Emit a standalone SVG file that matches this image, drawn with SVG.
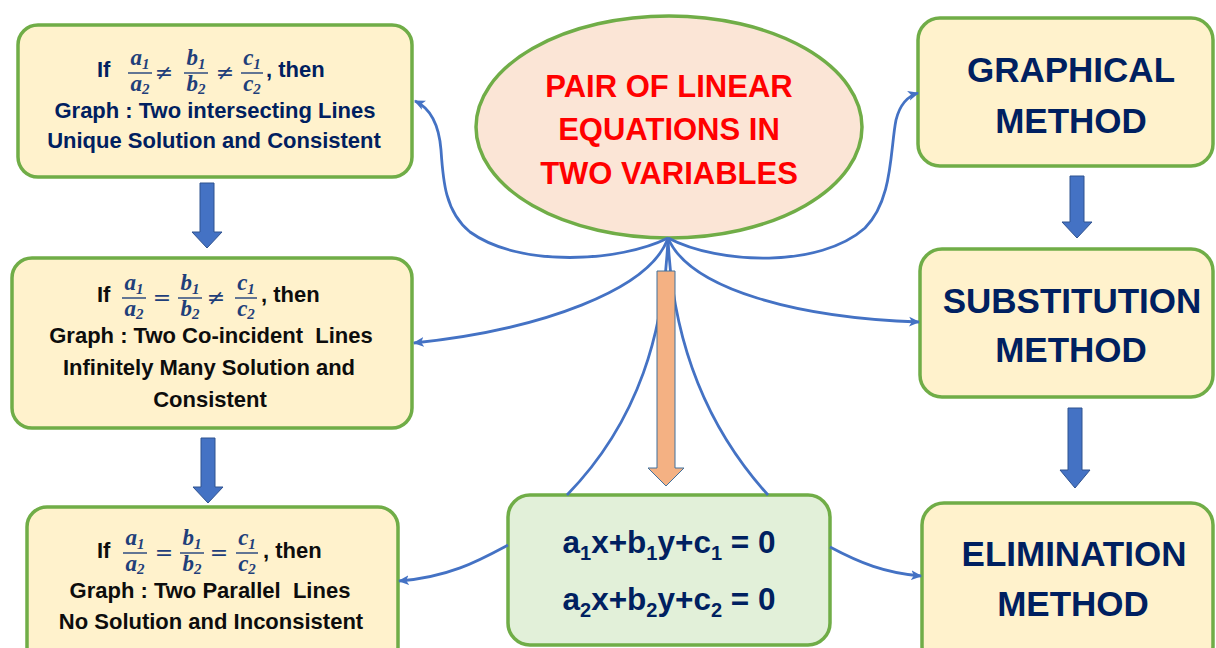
<svg xmlns="http://www.w3.org/2000/svg" width="1216" height="648" viewBox="0 0 1216 648">
<style>
.bx{fill:#FFF2CC;stroke:#70AD47;stroke-width:3.5}
.t{font-family:"Liberation Sans",Arial,sans-serif;font-weight:bold;font-size:22px;text-anchor:middle;white-space:pre}
.nv{fill:#002060}
.bk{fill:#0D0D0D}
.big{font-family:"Liberation Sans",Arial,sans-serif;font-weight:bold;font-size:35px;fill:#002060;text-anchor:middle}
.title{font-family:"Liberation Sans",Arial,sans-serif;font-weight:bold;font-size:31px;fill:#FF0000;text-anchor:middle}
.eq{font-family:"Liberation Sans",Arial,sans-serif;font-weight:bold;font-size:31.5px;fill:#002060;text-anchor:middle;white-space:pre}
.m{font-family:"Liberation Serif","Times New Roman",serif;font-style:italic;font-weight:bold;font-size:23px;fill:#1F3F7A;text-anchor:middle}
.s{font-size:15px}
.rel{font-family:"DejaVu Sans","Liberation Sans",sans-serif;font-size:22px;fill:#1F3F7A;text-anchor:middle}
.bar{stroke:#1F3F7A;stroke-width:1.4}
.c{fill:none;stroke:#4472C4;stroke-width:2.8}
.ba{fill:#4472C4;stroke:#2F528F;stroke-width:1}
</style>
<defs>
<marker id="ah" viewBox="0 0 10 10" refX="9" refY="5" markerWidth="11" markerHeight="11" markerUnits="userSpaceOnUse" orient="auto">
<path d="M0,0.5 L10,5 L0,9.5 L2.5,5 Z" fill="#4472C4"/>
</marker>
</defs>

<g id="box1">
<rect class="bx" x="18" y="25" width="394" height="152" rx="20"/>
<text class="t nv" x="97" y="77" style="text-anchor:start">If</text>
<text class="m" x="140" y="65">a<tspan class="s" dy="4">1</tspan></text>
<line class="bar" x1="128" y1="73" x2="152" y2="73"/>
<text class="m" x="140" y="91">a<tspan class="s" dy="3">2</tspan></text>
<text class="rel" x="164" y="80">≠</text>
<text class="m" x="196" y="65">b<tspan class="s" dy="4">1</tspan></text>
<line class="bar" x1="184" y1="73" x2="208" y2="73"/>
<text class="m" x="196" y="91">b<tspan class="s" dy="3">2</tspan></text>
<text class="rel" x="225" y="80">≠</text>
<text class="m" x="252" y="65">c<tspan class="s" dy="4">1</tspan></text>
<line class="bar" x1="241" y1="73" x2="263" y2="73"/>
<text class="m" x="252" y="91">c<tspan class="s" dy="3">2</tspan></text>
<text class="t nv" x="266" y="77" style="text-anchor:start">, then</text>
<text class="t nv" x="215" y="118">Graph : Two intersecting Lines</text>
<text class="t nv" x="214" y="148">Unique Solution and Consistent</text>
</g>

<g id="box2">
<rect class="bx" x="12" y="258" width="400" height="170" rx="20"/>
<text class="t bk" x="97" y="302" style="text-anchor:start">If</text>
<text class="m" x="134" y="290">a<tspan class="s" dy="4">1</tspan></text>
<line class="bar" x1="122" y1="298" x2="146" y2="298"/>
<text class="m" x="134" y="316">a<tspan class="s" dy="3">2</tspan></text>
<text class="rel" x="162" y="305">=</text>
<text class="m" x="190" y="290">b<tspan class="s" dy="4">1</tspan></text>
<line class="bar" x1="178" y1="298" x2="202" y2="298"/>
<text class="m" x="190" y="316">b<tspan class="s" dy="3">2</tspan></text>
<text class="rel" x="216" y="305">≠</text>
<text class="m" x="246" y="290">c<tspan class="s" dy="4">1</tspan></text>
<line class="bar" x1="235" y1="298" x2="257" y2="298"/>
<text class="m" x="246" y="316">c<tspan class="s" dy="3">2</tspan></text>
<text class="t bk" x="261" y="302" style="text-anchor:start">, then</text>
<text class="t bk" x="211" y="343">Graph : Two Co-incident  Lines</text>
<text class="t bk" x="209" y="375">Infinitely Many Solution and</text>
<text class="t bk" x="210" y="407">Consistent</text>
</g>

<g id="box3">
<rect class="bx" x="27" y="507" width="371" height="160" rx="20"/>
<text class="t bk" x="97" y="558" style="text-anchor:start">If</text>
<text class="m" x="135" y="545">a<tspan class="s" dy="4">1</tspan></text>
<line class="bar" x1="123" y1="553" x2="147" y2="553"/>
<text class="m" x="135" y="571">a<tspan class="s" dy="3">2</tspan></text>
<text class="rel" x="164" y="560">=</text>
<text class="m" x="192" y="545">b<tspan class="s" dy="4">1</tspan></text>
<line class="bar" x1="180" y1="553" x2="204" y2="553"/>
<text class="m" x="192" y="571">b<tspan class="s" dy="3">2</tspan></text>
<text class="rel" x="219" y="560">=</text>
<text class="m" x="247" y="545">c<tspan class="s" dy="4">1</tspan></text>
<line class="bar" x1="236" y1="553" x2="258" y2="553"/>
<text class="m" x="247" y="571">c<tspan class="s" dy="3">2</tspan></text>
<text class="t bk" x="263" y="558" style="text-anchor:start">, then</text>
<text class="t bk" x="210" y="598">Graph : Two Parallel  Lines</text>
<text class="t bk" x="211" y="629">No Solution and Inconsistent</text>
</g>

<g id="center">
<ellipse cx="669" cy="127" rx="193" ry="111" fill="#FBE5D6" stroke="#70AD47" stroke-width="3.5"/>
<text class="title" x="669" y="97">PAIR OF LINEAR</text>
<text class="title" x="669" y="140">EQUATIONS IN</text>
<text class="title" x="669" y="184">TWO VARIABLES</text>
</g>

<g id="equations">
<rect x="508" y="495" width="322" height="150" rx="22" fill="#E2F0D9" stroke="#70AD47" stroke-width="3.5"/>
<text class="eq" x="669" y="553">a<tspan font-size="20" dy="7">1</tspan><tspan dy="-7">x+b</tspan><tspan font-size="20" dy="7">1</tspan><tspan dy="-7">y+c</tspan><tspan font-size="20" dy="7">1</tspan><tspan dy="-7"> = 0</tspan></text>
<text class="eq" x="669" y="610">a<tspan font-size="20" dy="7">2</tspan><tspan dy="-7">x+b</tspan><tspan font-size="20" dy="7">2</tspan><tspan dy="-7">y+c</tspan><tspan font-size="20" dy="7">2</tspan><tspan dy="-7"> = 0</tspan></text>
</g>

<g id="graphical">
<rect class="bx" x="918" y="18" width="295" height="148" rx="22"/>
<text class="big" x="1071" y="82">GRAPHICAL</text>
<text class="big" x="1071" y="133">METHOD</text>
</g>

<g id="substitution">
<rect class="bx" x="920" y="249" width="293" height="148" rx="22"/>
<text class="big" x="1072" y="313">SUBSTITUTION</text>
<text class="big" x="1071" y="362">METHOD</text>
</g>

<g id="elimination">
<rect class="bx" x="922" y="503" width="291" height="165" rx="22"/>
<text class="big" x="1074" y="566">ELIMINATION</text>
<text class="big" x="1073" y="616">METHOD</text>
</g>

<g id="connectors">
<path class="c" marker-end="url(#ah)" d="M668,238 C620,262 520,268 470,232 C445,212 443,180 441,150 C439,125 430,108 415,101"/>
<path class="c" marker-end="url(#ah)" d="M668,238 C720,265 820,268 865,228 C893,200 890,150 896,120 C900,104 908,96 918,93"/>
<path class="c" marker-end="url(#ah)" d="M668,238 C650,290 540,330 414,343"/>
<path class="c" marker-end="url(#ah)" d="M668,238 C690,290 800,318 919,322"/>
<path class="c" d="M668,238 C664,330 640,420 567,495"/>
<path class="c" d="M668,238 C672,330 700,420 768,495"/>
<path class="c" marker-end="url(#ah)" d="M508,545 C480,560 450,577 399,581"/>
<path class="c" marker-end="url(#ah)" d="M830,547 C860,563 885,573 921,576"/>
<path class="ba" d="M200,183 H214 V232 H222 L207,248 L192,232 H200 Z"/>
<path class="ba" d="M201,438 H215 V487 H223 L208,503 L193,487 H201 Z"/>
<path class="ba" d="M1070,176 H1084 V222 H1092 L1077,238 L1062,222 H1070 Z"/>
<path class="ba" d="M1068,408 H1082 V470 H1090 L1075,488 L1060,470 H1068 Z"/>
<path d="M657,271 H675 V468 H684 L666,486 L648,468 H657 Z" fill="#F4B183" stroke="#41719C" stroke-width="1"/>
</g>
</svg>
